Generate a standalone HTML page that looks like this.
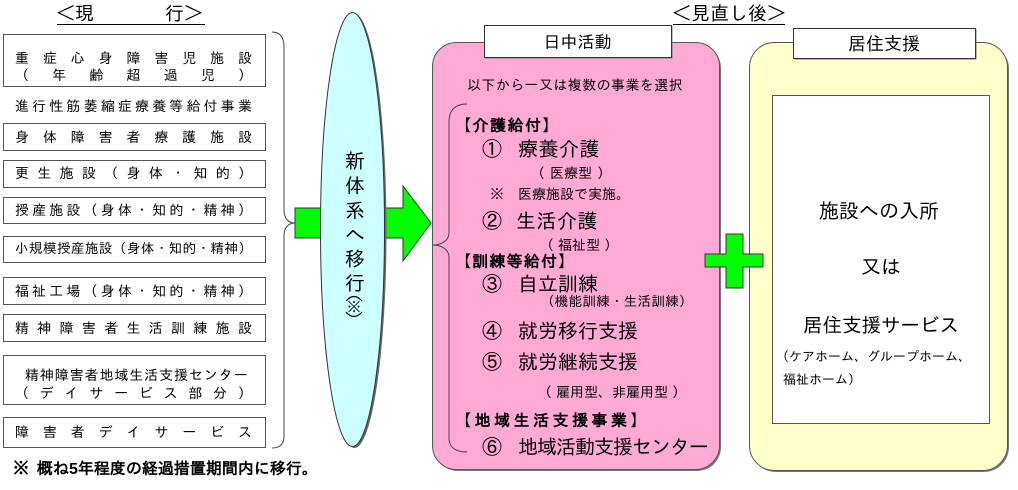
<!DOCTYPE html>
<html lang="ja">
<head>
<meta charset="utf-8">
<style>
  html,body{margin:0;padding:0;background:#fff;}
  body{width:1018px;height:490px;position:relative;overflow:hidden;
    font-family:"Liberation Sans","IPAGothic","Noto Sans CJK JP",sans-serif;color:#000;}
  svg{position:absolute;left:0;top:0;}
  .t{position:absolute;white-space:nowrap;line-height:1;}
  .sp{position:absolute;left:15px;width:237px;display:flex;justify-content:space-between;font-size:14px;line-height:14px;white-space:nowrap;}
  .b{font-weight:bold;}
  .v{position:absolute;writing-mode:vertical-rl;font-size:20px;line-height:20px;letter-spacing:4.5px;white-space:nowrap;}
</style>
</head>
<body>
<svg width="1018" height="490" viewBox="0 0 1018 490">
  <!-- titles underline -->
  <line x1="57" y1="24.5" x2="205" y2="24.5" stroke="#000" stroke-width="1"/>
  <line x1="673" y1="24.5" x2="785" y2="24.5" stroke="#000" stroke-width="1"/>

  <!-- left boxes -->
  <g fill="#fff" stroke="#555" stroke-width="1">
    <rect x="3.5" y="34.5" width="262" height="52"/>
    <rect x="3.5" y="123.5" width="262" height="27"/>
    <rect x="3.5" y="160.5" width="262" height="27"/>
    <rect x="3.5" y="197.5" width="262" height="26"/>
    <rect x="3.5" y="236.5" width="262" height="26"/>
    <rect x="3.5" y="277.5" width="262" height="27"/>
    <rect x="3.5" y="314.5" width="262" height="27"/>
    <rect x="3.5" y="355.5" width="262" height="49"/>
    <rect x="3.5" y="417.5" width="262" height="30"/>
  </g>

  <!-- left brace -->
  <path d="M272,32 C280,32 284,37 284,47 L284,210 C284,218 288,223 295,223 C288,223 284,228 284,236 L284,436 C284,444 280,448 272,448" fill="none" stroke="#444" stroke-width="1"/>

  <!-- green arrow -->
  <path d="M295,208 L403,208 L403,186 L431,223 L403,261 L403,238 L295,238 Z" fill="#00ff00" stroke="#333" stroke-width="1"/>

  <!-- ellipse with shadow -->
  <ellipse cx="354.5" cy="231" rx="32" ry="217" fill="#666"/>
  <ellipse cx="352.5" cy="229.5" rx="32" ry="217" fill="#ccffff" stroke="#333" stroke-width="1"/>

  <!-- (※) arcs in ellipse -->
  <path d="M346,301 Q354,292 362,301" fill="none" stroke="#000" stroke-width="1.2"/>
  <path d="M346,312 Q354,321 362,312" fill="none" stroke="#000" stroke-width="1.2"/>

  <!-- pink box -->
  <rect x="434" y="44" width="287" height="427" rx="24" ry="24" fill="#777"/>
  <rect x="432.5" y="42.5" width="287" height="427" rx="24" ry="24" fill="#ffaad5" stroke="#555" stroke-width="1"/>
  <rect x="485.5" y="26.5" width="187" height="32" fill="#777"/>
  <rect x="484.5" y="25.5" width="187" height="32" fill="#fff" stroke="#333" stroke-width="1"/>

  <!-- inner brace -->
  <path d="M467,104 C455,104 449,110 449,122 L449,233 C449,240 442,245 433,245 C442,245 449,250 449,257 L449,438 C449,447 455,452 467,452" fill="none" stroke="#444" stroke-width="1"/>

  <!-- yellow box -->
  <rect x="751" y="44" width="258" height="428" rx="25" ry="25" fill="#777"/>
  <rect x="749.5" y="42.5" width="258" height="428" rx="25" ry="25" fill="#ffffcc" stroke="#555" stroke-width="1"/>
  <rect x="794.5" y="29.5" width="182" height="30" fill="#777"/>
  <rect x="793.5" y="28.5" width="182" height="30" fill="#fff" stroke="#333" stroke-width="1"/>
  <rect x="772.5" y="95.5" width="217" height="328" fill="#fff" stroke="#555" stroke-width="1"/>

  <!-- green cross -->
  <path d="M726,234 H743 V254 H763 V267 H743 V288 H726 V267 H705 V254 H726 Z" fill="#00ff00" stroke="#333" stroke-width="1"/>
</svg>

<!-- titles -->
<div class="t" style="left:56px;top:5px;font-size:19px;">＜現</div>
<div class="t" style="left:165px;top:5px;font-size:19px;">行＞</div>
<div class="t" style="left:672px;top:5px;font-size:19px;">＜見直し後＞</div>

<!-- left box texts -->
<div class="sp" style="top:51px;"><span>重</span><span>症</span><span>心</span><span>身</span><span>障</span><span>害</span><span>児</span><span>施</span><span>設</span></div>
<div class="sp" style="top:68px;"><span>（</span><span>年</span><span>齢</span><span>超</span><span>過</span><span>児</span><span>）</span></div>
<div class="sp" style="top:99px;"><span>進</span><span>行</span><span>性</span><span>筋</span><span>萎</span><span>縮</span><span>症</span><span>療</span><span>養</span><span>等</span><span>給</span><span>付</span><span>事</span><span>業</span></div>
<div class="sp" style="top:130px;"><span>身</span><span>体</span><span>障</span><span>害</span><span>者</span><span>療</span><span>護</span><span>施</span><span>設</span></div>
<div class="sp" style="top:166px;"><span>更</span><span>生</span><span>施</span><span>設</span><span>（</span><span>身</span><span>体</span><span>・</span><span>知</span><span>的</span><span>）</span></div>
<div class="sp" style="top:203px;"><span>授</span><span>産</span><span>施</span><span>設</span><span>（</span><span>身</span><span>体</span><span>・</span><span>知</span><span>的</span><span>・</span><span>精</span><span>神</span><span>）</span></div>
<div class="sp" style="top:242px;font-size:13.5px;"><span>小</span><span>規</span><span>模</span><span>授</span><span>産</span><span>施</span><span>設</span><span>（</span><span>身</span><span>体</span><span>・</span><span>知</span><span>的</span><span>・</span><span>精</span><span>神</span><span>）</span></div>
<div class="sp" style="top:284px;"><span>福</span><span>祉</span><span>工</span><span>場</span><span>（</span><span>身</span><span>体</span><span>・</span><span>知</span><span>的</span><span>・</span><span>精</span><span>神</span><span>）</span></div>
<div class="sp" style="top:321px;"><span>精</span><span>神</span><span>障</span><span>害</span><span>者</span><span>生</span><span>活</span><span>訓</span><span>練</span><span>施</span><span>設</span></div>
<div class="t" style="left:25px;top:368px;font-size:14px;letter-spacing:0.9px;">精神障害者地域生活支援センター</div>
<div class="sp" style="top:386px;"><span>（</span><span>デ</span><span>イ</span><span>サ</span><span>ー</span><span>ビ</span><span>ス</span><span>部</span><span>分</span><span>）</span></div>
<div class="sp" style="top:425px;"><span>障</span><span>害</span><span>者</span><span>デ</span><span>イ</span><span>サ</span><span>ー</span><span>ビ</span><span>ス</span></div>

<!-- footnote -->
<div class="t b" style="left:13px;top:462px;font-size:16px;">※</div>
<div class="t b" style="left:37px;top:462px;font-size:16px;">概ね5年程度の経過措置期間内に移行。</div>

<!-- ellipse vertical text -->
<div class="v" style="left:344px;top:150px;">新体系へ移行</div>
<div class="t" style="left:347px;top:300px;font-size:14px;">※</div>

<!-- pink box header -->
<div class="t" style="left:484px;width:187px;text-align:center;top:34px;font-size:17px;">日中活動</div>

<!-- pink box contents -->
<div class="t" style="left:467px;top:78px;font-size:14px;letter-spacing:0.4px;">以下から一又は複数の事業を選択</div>

<div class="t b" style="left:455px;top:119px;font-size:16px;letter-spacing:1.5px;">【介護給付】</div>
<div class="t" style="left:482px;top:140px;font-size:20px;">①</div>
<div class="t" style="left:518px;top:140px;font-size:20px;letter-spacing:0.5px;">療養介護</div>
<div class="t" style="left:531px;top:166px;font-size:14px;"><span style="margin-right:5px">（</span>医療型<span style="margin-left:5px">）</span></div>
<div class="t" style="left:490px;top:187px;font-size:14px;">※　医療施設で実施。</div>
<div class="t" style="left:482px;top:212px;font-size:20px;">②</div>
<div class="t" style="left:516px;top:212px;font-size:20px;letter-spacing:0.5px;">生活介護</div>
<div class="t" style="left:540px;top:238px;font-size:14px;"><span style="margin-right:4px">（</span>福祉型<span style="margin-left:4px">）</span></div>

<div class="t b" style="left:455px;top:255px;font-size:16px;letter-spacing:1.2px;">【訓練等給付】</div>
<div class="t" style="left:482px;top:275px;font-size:20px;">③</div>
<div class="t" style="left:518px;top:275px;font-size:20px;">自立訓練</div>
<div class="t" style="left:541px;top:295px;font-size:13.5px;letter-spacing:0.3px;">（機能訓練・生活訓練）</div>
<div class="t" style="left:482px;top:322px;font-size:20px;">④</div>
<div class="t" style="left:518px;top:322px;font-size:20px;">就労移行支援</div>
<div class="t" style="left:482px;top:353px;font-size:20px;">⑤</div>
<div class="t" style="left:518px;top:353px;font-size:20px;">就労継続支援</div>
<div class="t" style="left:538px;top:385px;font-size:14px;"><span style="margin-right:4px">（</span>雇用型、非雇用型<span style="margin-left:4px">）</span></div>

<div class="t b" style="left:455px;top:414px;font-size:16px;letter-spacing:3.5px;">【地域生活支援事業】</div>
<div class="t" style="left:482px;top:438px;font-size:20px;">⑥</div>
<div class="t" style="left:518px;top:438px;font-size:20px;letter-spacing:-1px;">地域活動支援センター</div>

<!-- yellow box -->
<div class="t" style="left:793px;width:182px;text-align:center;top:35px;font-size:18px;">居住支援</div>
<div class="t" style="left:819px;top:202px;font-size:20px;">施設への入所</div>
<div class="t" style="left:861px;top:258px;font-size:20px;">又は</div>
<div class="t" style="left:803px;top:317px;font-size:19.5px;">居住支援サービス</div>
<div class="t" style="left:776px;top:350px;font-size:13px;">（ケアホーム、グループホーム、</div>
<div class="t" style="left:783px;top:373px;font-size:13px;">福祉ホーム）</div>
</body>
</html>
